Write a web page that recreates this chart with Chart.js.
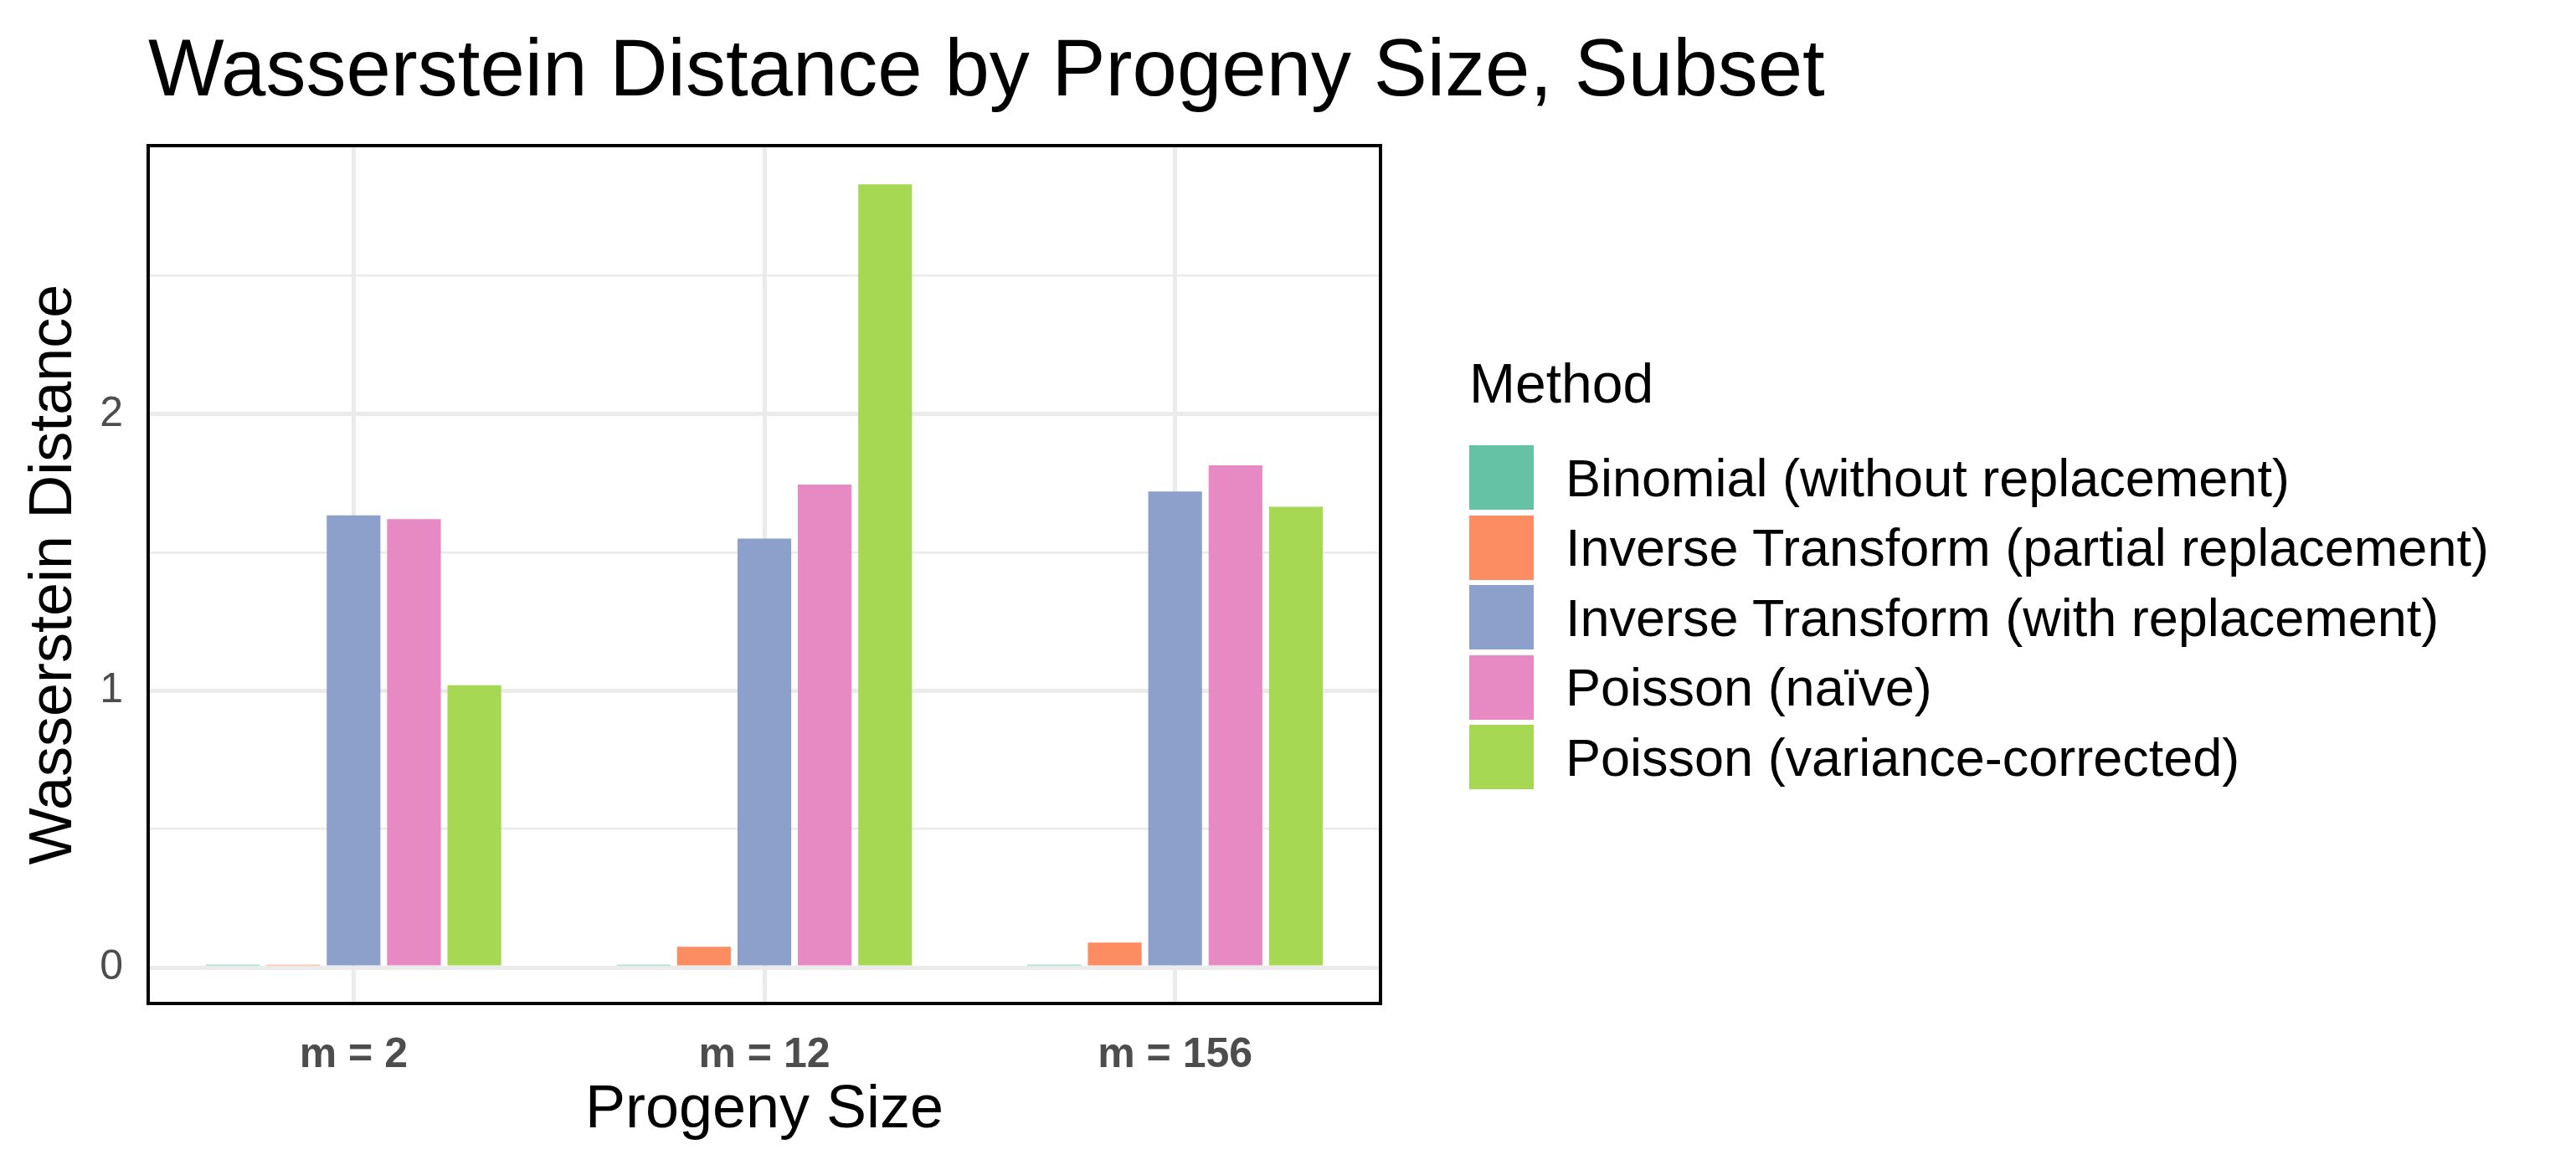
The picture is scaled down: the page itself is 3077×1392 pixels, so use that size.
<!DOCTYPE html>
<html><head><meta charset="utf-8">
<script src="https://cdn.jsdelivr.net/npm/chart.js@4/dist/chart.umd.min.js"></script>
<style>
body{margin:0;background:#fff;width:3077px;height:1392px;position:relative;overflow:hidden;font-family:"Liberation Sans",Arial,sans-serif;}
#wrap{position:absolute;left:0;top:0;width:1700px;height:1392px;}
#title{position:absolute;left:177px;top:26px;font-size:96px;line-height:110px;color:#000;white-space:nowrap;}
#ltitle{position:absolute;left:1755px;top:420px;font-size:66px;line-height:76px;color:#000;}
#legend{position:absolute;left:1755px;top:529px;color:#000;}
#legend .i{display:flex;align-items:center;height:83.5px;font-size:63px;white-space:nowrap;}
#legend .b{width:77px;height:77px;margin-right:38px;}
</style></head><body>
<div id="wrap"><canvas id="c" width="1700" height="1392"></canvas></div>
<div id="title">Wasserstein Distance by Progeny Size, Subset</div>
<div id="ltitle">Method</div>
<div id="legend"></div>
<script>
const categories = ["m = 2", "m = 12", "m = 156"];
const methods = ["Binomial (without replacement)", "Inverse Transform (partial replacement)", "Inverse Transform (with replacement)", "Poisson (naïve)", "Poisson (variance-corrected)"];
const colors = ["#66c2a5", "#fc8d62", "#8da0cb", "#e78ac3", "#a6d854"];
const binomial = [0.01, 0.01, 0.01];
const invPartial = [0.01, 0.075, 0.09];
const invWith = [1.634, 1.55, 1.72];
const poissonNaive = [1.62, 1.745, 1.815];
const poissonVC = [1.02, 2.83, 1.665];
const series = [binomial, invPartial, invWith, poissonNaive, poissonVC];

const lg = document.getElementById('legend');
lg.innerHTML = methods.map((m,i)=>`<div class="i"><div class="b" style="background:${colors[i]}"></div><span>${m}</span></div>`).join('');

const border = {id:'border', afterDraw(ch){const a=ch.chartArea,c=ch.ctx;c.save();c.strokeStyle='#000';c.lineWidth=4;c.strokeRect(a.left,a.top,a.right-a.left,a.bottom-a.top);c.restore();}};
const white = {id:'bg', beforeDraw(ch){ch.ctx.save();ch.ctx.fillStyle='#fff';ch.ctx.fillRect(0,0,ch.width,ch.height);ch.ctx.restore();}};

new Chart(document.getElementById('c'), {
  type:'bar',
  data:{labels:categories, datasets: series.map((s,i)=>({label:methods[i], data:s, backgroundColor:colors[i], categoryPercentage:0.735, barPercentage:0.89}))},
  options:{
    responsive:false, maintainAspectRatio:false, animation:false, devicePixelRatio:1,
    layout:{padding:{left:0,top:174,right:51,bottom:0}},
    plugins:{legend:{display:false}, tooltip:{enabled:false}},
    scales:{
      x:{grid:{offset:false, color:'#ebebeb', lineWidth:5, drawTicks:false}, border:{display:false},
         ticks:{font:{family:'Liberation Sans', size:50, weight:'bold'}, color:'#4d4d4d', padding:32},
         title:{display:true, text:'Progeny Size', font:{family:'Liberation Sans', size:72}, color:'#000', padding:{top:6,bottom:22}},
         afterFit(s){s.height=193;}},
      y:{min:-0.13, max:2.97, grid:{color:'#ebebeb', lineWidth:c=>Math.abs(c.tick.value-Math.round(c.tick.value))<1e-6?5:2.5, drawTicks:false}, border:{display:false},
         ticks:{stepSize:0.5, autoSkip:false, font:{family:'Liberation Sans', size:50}, color:'#4d4d4d', padding:30,
           callback:v=>Math.abs(v-Math.round(v))<1e-6?String(Math.round(v)):''},
         afterBuildTicks(s){s.ticks=[0,0.5,1,1.5,2,2.5].map(v=>({value:v}));},
         title:{display:true, text:'Wasserstein Distance', font:{family:'Liberation Sans', size:72}, color:'#000', padding:{top:22,bottom:0}},
         afterFit(s){s.width=177;}}
    }
  },
  plugins:[white,border]
});
</script></body></html>
